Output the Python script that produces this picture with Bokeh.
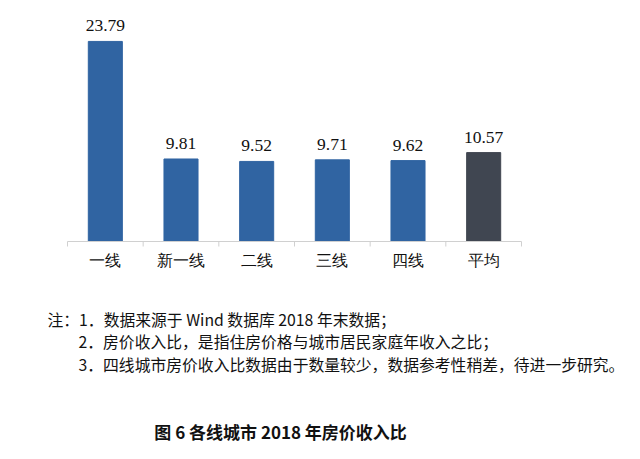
from bokeh.plotting import figure
from bokeh.models import ColumnDataSource, Range1d, LabelSet, Label
from bokeh.embed import file_html
from bokeh.resources import INLINE

categories = ["一线", "新一线", "二线", "三线", "四线", "平均"]
values = [23.79, 9.81, 9.52, 9.71, 9.62, 10.57]
notes = [
    "注：1．数据来源于 Wind 数据库 2018 年末数据；",
    "2．房价收入比，是指住房价格与城市居民家庭年收入之比；",
    "3．四线城市房价收入比数据由于数量较少，数据参考性稍差，待进一步研究。",
]
chart_title = "图 6  各线城市 2018 年房价收入比"

BLUE = "#3064a2"
DARK = "#404651"
AXIS = "#d0d0d0"

W, H = 640, 459
LEFT, RIGHT, BASE = 67, 521, 241          # plotting area in pixels
n = len(categories)
cw = (RIGHT - LEFT) / n                    # px per category
py = 8.41                                  # px per unit

xs = [i + 0.5 for i in range(n)]
source = ColumnDataSource(dict(
    x=xs,
    top=values,
    zero=[0] * n,
    cat=categories,
    label=[f"{v:.2f}" for v in values],
    color=[DARK if c == "平均" else BLUE for c in categories],
))

p = figure(width=W, height=H, output_backend="svg", toolbar_location=None,
           x_range=Range1d(-LEFT / cw, n + (W - RIGHT) / cw),
           y_range=Range1d(-(H - BASE) / py, BASE / py),
           x_axis_location=None, y_axis_location=None,
           min_border=0)
p.outline_line_color = None
p.background_fill_color = "white"
p.border_fill_color = "white"
p.grid.visible = False

p.vbar(x="x", top="top", width=0.45, bottom=0, color="color", source=source)

# axis line and boundary ticks
bounds = list(range(n + 1))
p.segment(x0=[0], y0=[0], x1=[n], y1=[0], line_color=AXIS, line_width=1)
p.segment(x0=bounds, y0=[0] * len(bounds), x1=bounds, y1=[-5 / py] * len(bounds),
          line_color=AXIS, line_width=1)

p.add_layout(LabelSet(x="x", y="top", text="label", source=source, text_align="center",
                      text_baseline="alphabetic", y_offset=10, text_font="Liberation Serif",
                      text_font_size="17.5px", text_color="#111111"))
p.add_layout(LabelSet(x="x", y="zero", text="cat", source=source, text_align="center",
                      text_baseline="middle", y_offset=-19, text_font="Noto Sans CJK SC",
                      text_font_size="16px", text_color="#111111"))

note_pos = [(47, 319), (78, 341), (78, 364)]
for (nx, ny), t in zip(note_pos, notes):
    p.add_layout(Label(x=nx, y=H - ny, x_units="screen", y_units="screen", text=t,
                       text_font="Noto Sans CJK SC", text_font_size="15.8px",
                       text_baseline="middle", text_align="left", text_color="#111111"))

p.add_layout(Label(x=282, y=H - 431, x_units="screen", y_units="screen", text=chart_title,
                   text_font="Noto Sans CJK SC", text_font_size="17px", text_font_style="bold",
                   text_baseline="middle", text_align="center", text_color="#111111"))

open("out.html", "w").write(file_html(p, INLINE))
